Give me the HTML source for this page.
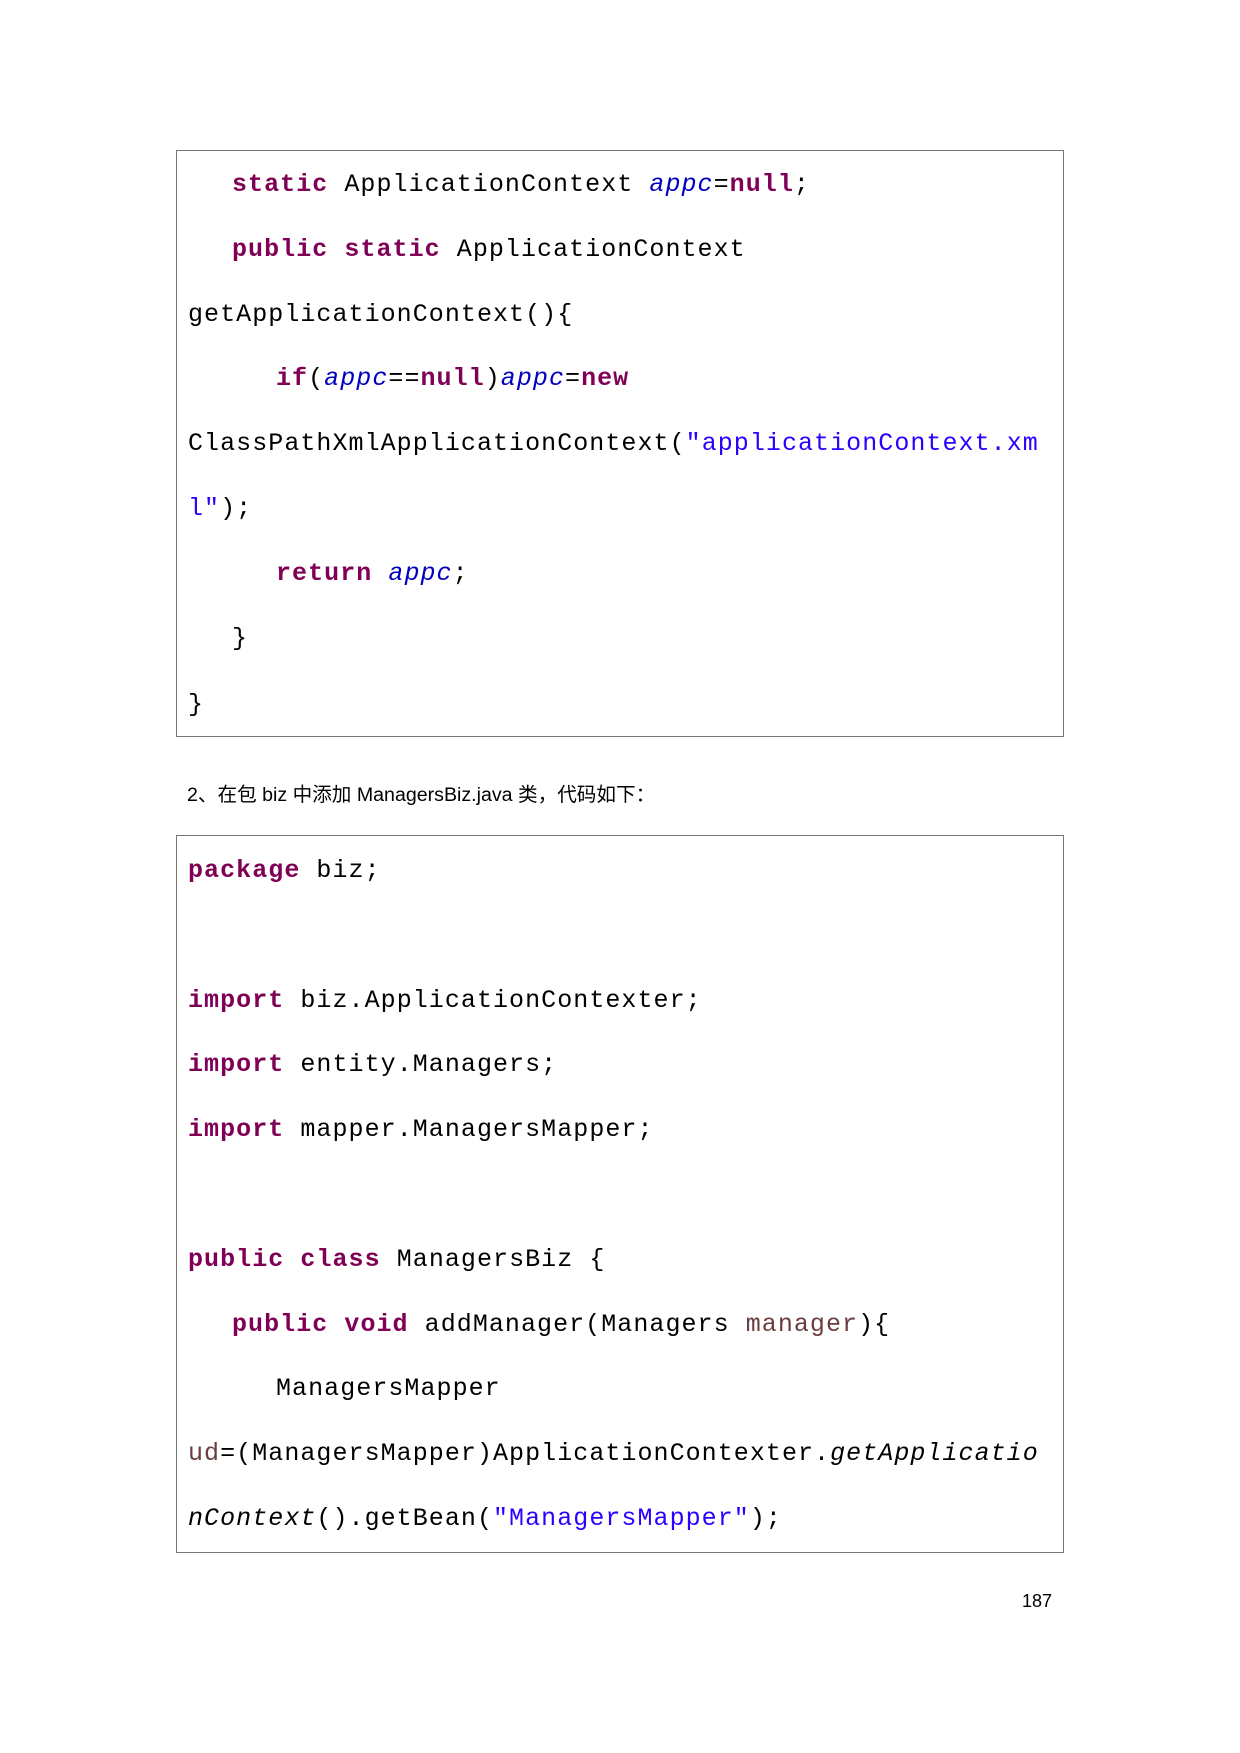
<!DOCTYPE html>
<html><head><meta charset="utf-8"><style>
body{margin:0;background:#fff;}
.page{position:relative;width:1240px;height:1753px;overflow:hidden;background:#fff;}
.box{position:absolute;left:176px;width:888px;border:1.5px solid #777;box-sizing:border-box;}
.l{position:absolute;left:188px;font-family:"Liberation Mono","DejaVu Sans Mono",monospace;font-size:25px;letter-spacing:1.05px;line-height:30px;white-space:pre;color:#000;}
.k{color:#7f0055;font-weight:bold;}
.f{color:#0000c0;font-style:italic;}
.s{color:#2a00ff;}
.v{color:#6a3e3e;}
.i{font-style:italic;}
.cap{position:absolute;left:187px;top:782px;font-family:"Liberation Sans","Noto Sans CJK SC",sans-serif;font-size:19.6px;line-height:26px;}
.pn{position:absolute;left:1022px;top:1590px;font-family:"Liberation Sans",sans-serif;font-size:18px;line-height:22px;}
</style></head><body><div class="page">
<div class="box" style="top:150px;height:587px;"></div>
<div class="l" style="top:170px;left:232px"><span class="k">static</span> ApplicationContext <span class="f">appc</span>=<span class="k">null</span>;</div>
<div class="l" style="top:235px;left:232px"><span class="k">public</span> <span class="k">static</span> ApplicationContext</div>
<div class="l" style="top:300px">getApplicationContext(){</div>
<div class="l" style="top:364px;left:276px"><span class="k">if</span>(<span class="f">appc</span>==<span class="k">null</span>)<span class="f">appc</span>=<span class="k">new</span></div>
<div class="l" style="top:429px">ClassPathXmlApplicationContext(<span class="s">"applicationContext.xm</span></div>
<div class="l" style="top:494px"><span class="s">l"</span>);</div>
<div class="l" style="top:559px;left:276px"><span class="k">return</span> <span class="f">appc</span>;</div>
<div class="l" style="top:624px;left:232px">}</div>
<div class="l" style="top:690px">}</div>

<div class="cap">2、在包 biz 中添加 ManagersBiz.java 类，代码如下：</div>

<div class="box" style="top:835px;height:718px;"></div>
<div class="l" style="top:856px"><span class="k">package</span> biz;</div>
<div class="l" style="top:986px"><span class="k">import</span> biz.ApplicationContexter;</div>
<div class="l" style="top:1050px"><span class="k">import</span> entity.Managers;</div>
<div class="l" style="top:1115px"><span class="k">import</span> mapper.ManagersMapper;</div>
<div class="l" style="top:1245px"><span class="k">public</span> <span class="k">class</span> ManagersBiz {</div>
<div class="l" style="top:1310px;left:232px"><span class="k">public</span> <span class="k">void</span> addManager(Managers <span class="v">manager</span>){</div>
<div class="l" style="top:1374px;left:276px">ManagersMapper</div>
<div class="l" style="top:1439px"><span class="v">ud</span>=(ManagersMapper)ApplicationContexter.<span class="i">getApplicatio</span></div>
<div class="l" style="top:1504px"><span class="i">nContext</span>().getBean(<span class="s">"ManagersMapper"</span>);</div>

<div class="pn">187</div>
</div></body></html>
